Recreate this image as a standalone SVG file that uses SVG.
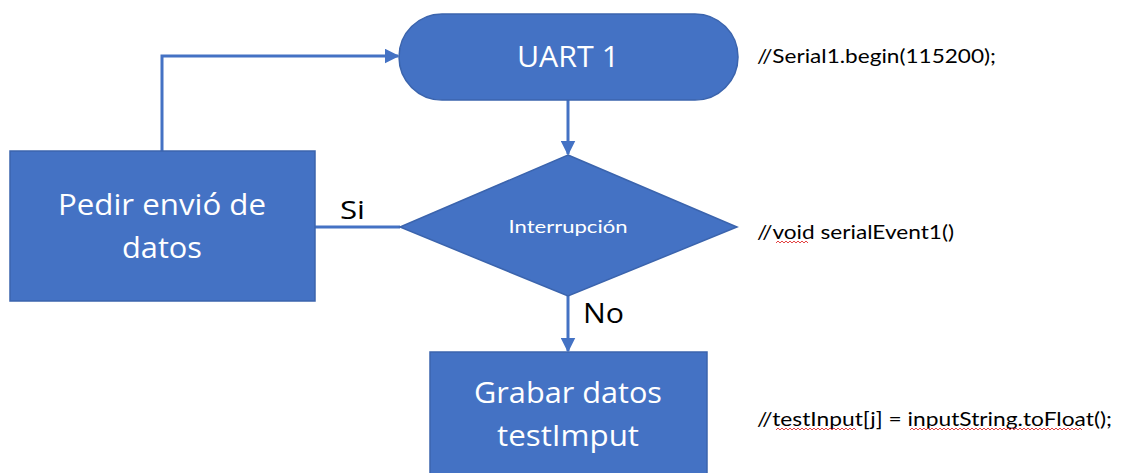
<svg xmlns="http://www.w3.org/2000/svg" width="1126" height="473" viewBox="0 0 1126 473">
<style>
.shape{fill:#4472C4;stroke:#3B64AD;stroke-width:1.5}
.wt{fill:#ffffff;font-family:"Open Sans","Noto Sans",sans-serif;text-anchor:middle}
.lbl{fill:#000000;font-family:"Open Sans","Noto Sans",sans-serif}
.code{fill:#000000;font-family:Lato,"Liberation Sans",sans-serif;font-size:19px}
.conn{fill:none;stroke:#4472C4;stroke-width:3}
.sq{fill:none;stroke:#E03030;stroke-width:0.9}
</style>
<defs>
<marker id="arr" viewBox="0 0 10 10" refX="9" refY="5" markerWidth="5" markerHeight="5" orient="auto" markerUnits="strokeWidth">
<path d="M0,0 L10,5 L0,10 z" fill="#4472C4"/>
</marker>
</defs>
<g id="connectors">
<path class="conn" d="M568,100 L568,154" marker-end="url(#arr)"/>
<path class="conn" d="M568,296 L568,351" marker-end="url(#arr)"/>
<path class="conn" d="M315,227 L400,227"/>
<path class="conn" d="M162,151 L162,56 L398,56" marker-end="url(#arr)"/>
</g>
<g id="uart">
<rect class="shape" x="399" y="14" width="339" height="86" rx="43" ry="43"/>
<text class="wt" x="568" y="67" font-size="29" textLength="102" lengthAdjust="spacingAndGlyphs">UART 1</text>
</g>
<g id="interrupcion">
<polygon class="shape" points="568,155 737,227 568,296 400,227"/>
<text class="wt" x="568" y="233" font-size="18" textLength="119" lengthAdjust="spacingAndGlyphs" style="font-family:Lato,'Open Sans',sans-serif">Interrupción</text>
</g>
<g id="pedir">
<rect class="shape" x="10" y="151" width="305" height="150"/>
<text class="wt" x="162" y="215" font-size="30" textLength="208" lengthAdjust="spacingAndGlyphs">Pedir envió de</text>
<text class="wt" x="162" y="258" font-size="30" textLength="80" lengthAdjust="spacingAndGlyphs">datos</text>
</g>
<g id="grabar">
<rect class="shape" x="430" y="352" width="277" height="130"/>
<text class="wt" x="568" y="403" font-size="30" textLength="188" lengthAdjust="spacingAndGlyphs">Grabar datos</text>
<text class="wt" x="568" y="446" font-size="30" textLength="142" lengthAdjust="spacingAndGlyphs">testImput</text>
</g>
<g id="labels">
<text class="lbl" x="340" y="219" font-size="26" textLength="25" lengthAdjust="spacingAndGlyphs">Si</text>
<text class="lbl" x="583" y="323" font-size="28" textLength="41" lengthAdjust="spacingAndGlyphs">No</text>
<text class="code" x="757" y="63" textLength="239" lengthAdjust="spacingAndGlyphs">//Serial1.begin(115200);</text>
<text class="code" x="757" y="239" textLength="197" lengthAdjust="spacingAndGlyphs">//void serialEvent1()</text>
<path class="sq" d="M776,243 l2,-2 l2,2 l2,-2 l2,2 l2,-2 l2,2 l2,-2 l2,2 l2,-2 l2,2 l2,-2 l2,2 l2,-2 l2,2 l2,-2 l2,2"/>
<text class="code" x="757" y="426" textLength="355" lengthAdjust="spacingAndGlyphs">//testInput[j] = inputString.toFloat();</text>
<path class="sq" d="M776,430 l2,-2 l2,2 l2,-2 l2,2 l2,-2 l2,2 l2,-2 l2,2 l2,-2 l2,2 l2,-2 l2,2 l2,-2 l2,2 l2,-2 l2,2 l2,-2 l2,2 l2,-2 l2,2 l2,-2 l2,2 l2,-2 l2,2 l2,-2 l2,2 l2,-2 l2,2 l2,-2 l2,2 l2,-2 l2,2 l2,-2 l2,2 l2,-2 l2,2 l2,-2 l2,2 l2,-2 l2,2"/>
<path class="sq" d="M910,430 l2,-2 l2,2 l2,-2 l2,2 l2,-2 l2,2 l2,-2 l2,2 l2,-2 l2,2 l2,-2 l2,2 l2,-2 l2,2 l2,-2 l2,2 l2,-2 l2,2 l2,-2 l2,2 l2,-2 l2,2 l2,-2 l2,2 l2,-2 l2,2 l2,-2 l2,2 l2,-2 l2,2 l2,-2 l2,2 l2,-2 l2,2 l2,-2 l2,2 l2,-2 l2,2 l2,-2 l2,2 l2,-2 l2,2 l2,-2 l2,2 l2,-2 l2,2 l2,-2 l2,2 l2,-2 l2,2 l2,-2 l2,2 l2,-2 l2,2 l2,-2 l2,2 l2,-2 l2,2 l2,-2 l2,2 l2,-2 l2,2 l2,-2 l2,2 l2,-2 l2,2 l2,-2 l2,2 l2,-2 l2,2 l2,-2 l2,2 l2,-2 l2,2 l2,-2 l2,2 l2,-2 l2,2 l2,-2 l2,2 l2,-2 l2,2 l2,-2 l2,2 l2,-2 l2,2"/>
</g>
</svg>
